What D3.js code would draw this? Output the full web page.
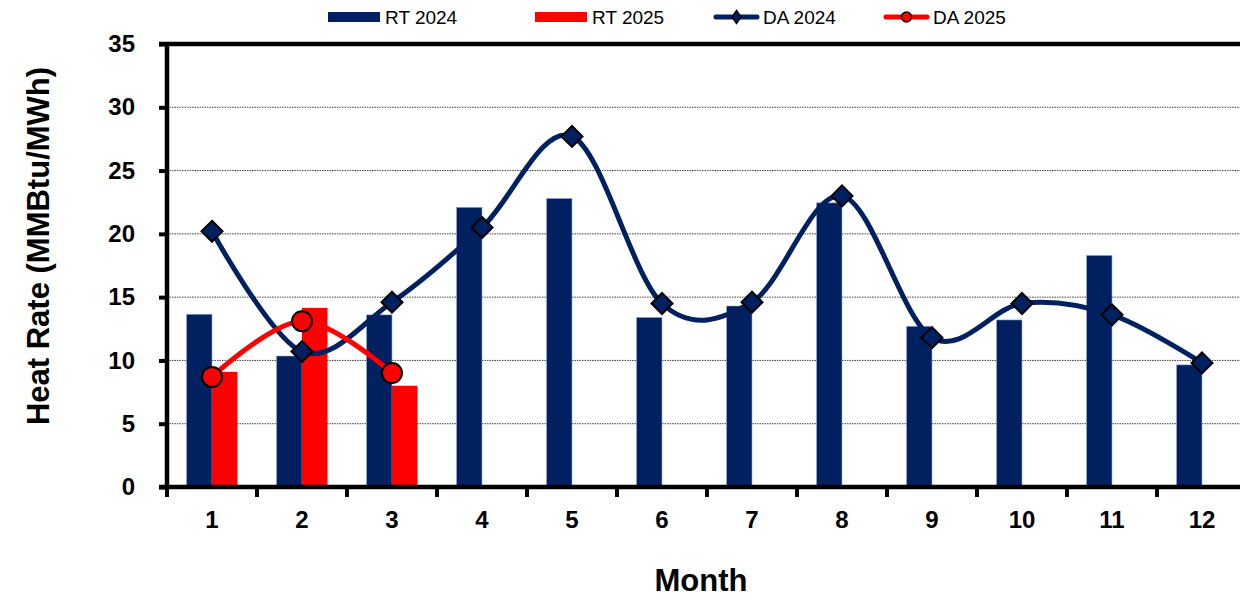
<!DOCTYPE html>
<html>
<head>
<meta charset="utf-8">
<script src="https://cdn.jsdelivr.net/npm/d3@7"></script>
<style>
  html, body { margin: 0; padding: 0; background: #fff; }
  svg { display: block; font-family: Arial, "Liberation Sans", sans-serif; }
</style>
</head>
<body>
<svg id="chart" width="1240" height="600"></svg>
<script>
// Monthly heat rates (MMBtu/MWh)
const months = ["1", "2", "3", "4", "5", "6", "7", "8", "9", "10", "11", "12"];
const rt2024 = [13.65, 10.35, 13.6, 22.1, 22.8, 13.4, 14.3, 22.45, 12.7, 13.2, 18.3, 9.65];
const rt2025 = [9.1, 14.15, 8.0];
const da2024 = [20.2, 10.7, 14.6, 20.5, 27.7, 14.5, 14.6, 23.0, 11.8, 14.5, 13.6, 9.8];
const da2025 = [8.7, 13.1, 9.0];
const yTicks = [0, 5, 10, 15, 20, 25, 30, 35];

const NAVY = "#002060";
const RED = "#ff0000";

const svg = d3.select("#chart");
const plot = { left: 167, right: 1247, top: 44, bottom: 487 };

const x = d3.scaleBand().domain(months).range([plot.left, plot.right]);
const y = d3.scaleLinear().domain([0, 35]).range([plot.bottom, plot.top]);
const barW = 25.5;
const cx = m => x(m) + x.bandwidth() / 2;

// Dotted horizontal gridlines
svg.append("g")
  .selectAll("line")
  .data(yTicks.filter(t => t > 0 && t < 35))
  .join("line")
  .attr("x1", plot.left).attr("x2", plot.right)
  .attr("y1", d => y(d)).attr("y2", d => y(d))
  .attr("stroke", "#444").attr("stroke-width", 1)
  .attr("stroke-dasharray", "1.5,1");

// Bars: RT 2024 left of the month centre, RT 2025 right of it
svg.append("g")
  .selectAll("rect")
  .data(rt2024)
  .join("rect")
  .attr("x", (d, i) => cx(months[i]) - barW)
  .attr("y", d => y(d))
  .attr("width", barW)
  .attr("height", d => y(0) - y(d))
  .attr("fill", NAVY)
  .attr("stroke", "#9fb0d0").attr("stroke-width", 0.6);

svg.append("g")
  .selectAll("rect")
  .data(rt2025)
  .join("rect")
  .attr("x", (d, i) => cx(months[i]))
  .attr("y", d => y(d))
  .attr("width", barW)
  .attr("height", d => y(0) - y(d))
  .attr("fill", RED);

// Smoothed day-ahead lines
const line = d3.line()
  .x((d, i) => cx(months[i]))
  .y(d => y(d))
  .curve(d3.curveCatmullRom.alpha(0));

svg.append("path").datum(da2024)
  .attr("d", line).attr("fill", "none")
  .attr("stroke", NAVY).attr("stroke-width", 5);

svg.append("path").datum(da2025)
  .attr("d", line).attr("fill", "none")
  .attr("stroke", RED).attr("stroke-width", 5);

// Markers
const diamond = (px, py, hw, hh) =>
  `M${px},${py - hh}L${px + hw},${py}L${px},${py + hh}L${px - hw},${py}Z`;

svg.append("g")
  .selectAll("path")
  .data(da2024)
  .join("path")
  .attr("d", (d, i) => diamond(cx(months[i]), y(d), 10.5, 10.5))
  .attr("fill", NAVY).attr("stroke", "#000").attr("stroke-width", 2);

svg.append("g")
  .selectAll("circle")
  .data(da2025)
  .join("circle")
  .attr("cx", (d, i) => cx(months[i]))
  .attr("cy", d => y(d))
  .attr("r", 10)
  .attr("fill", RED).attr("stroke", "#000").attr("stroke-width", 2);

// Frame: top border
svg.append("line")
  .attr("x1", plot.left - 8).attr("x2", plot.right)
  .attr("y1", plot.top).attr("y2", plot.top)
  .attr("stroke", "#000").attr("stroke-width", 4.5);

// Y axis
const yAxis = svg.append("g")
  .attr("transform", `translate(${plot.left},0)`)
  .call(d3.axisLeft(y).tickValues(yTicks).tickSize(8).tickPadding(24));
yAxis.select(".domain").attr("stroke-width", 4.5).attr("d", `M0,${plot.top - 2}V${plot.bottom + 2}`);
yAxis.selectAll(".tick line").attr("stroke-width", 4);
yAxis.selectAll(".tick text")
  .attr("font-size", 24).attr("font-weight", "bold").attr("fill", "#000")
  .attr("font-family", "Arial, 'Liberation Sans', sans-serif");

// X axis: ticks at month boundaries, labels at centres
const xAxisG = svg.append("g").attr("transform", `translate(0,${plot.bottom})`);
xAxisG.append("line")
  .attr("x1", plot.left - 8).attr("x2", plot.right)
  .attr("stroke", "#000").attr("stroke-width", 4.5);
xAxisG.selectAll("line.tk")
  .data(months)
  .join("line").attr("class", "tk")
  .attr("x1", d => x(d)).attr("x2", d => x(d))
  .attr("y1", 0).attr("y2", 10)
  .attr("stroke", "#000").attr("stroke-width", 4);
xAxisG.selectAll("text")
  .data(months)
  .join("text")
  .attr("x", d => cx(d))
  .attr("y", 41)
  .attr("text-anchor", "middle")
  .attr("font-size", 24).attr("font-weight", "bold")
  .text(d => d);

// Axis titles
svg.append("text")
  .attr("x", 701).attr("y", 591)
  .attr("text-anchor", "middle")
  .attr("font-size", 31).attr("font-weight", "bold")
  .text("Month");

svg.append("text")
  .attr("transform", "translate(49,246) rotate(-90)")
  .attr("text-anchor", "middle")
  .attr("font-size", 31).attr("font-weight", "bold")
  .text("Heat Rate (MMBtu/MWh)");

// Legend
const legend = svg.append("g").attr("font-size", 19);
const ly = 17;
const legendItems = [
  { name: "RT 2024", type: "bar", color: NAVY, x0: 328, tx: 385 },
  { name: "RT 2025", type: "bar", color: RED, x0: 535, tx: 592 },
  { name: "DA 2024", type: "diamond", color: NAVY, x0: 714, tx: 763 },
  { name: "DA 2025", type: "circle", color: RED, x0: 884, tx: 933 }
];
legendItems.forEach(it => {
  if (it.type === "bar") {
    legend.append("rect")
      .attr("x", it.x0).attr("y", ly - 5)
      .attr("width", 52).attr("height", 10)
      .attr("fill", it.color);
  } else {
    legend.append("line")
      .attr("x1", it.x0 + 2).attr("x2", it.x0 + 43)
      .attr("y1", ly).attr("y2", ly)
      .attr("stroke", it.color).attr("stroke-width", 5)
      .attr("stroke-linecap", "round");
    const mx = it.x0 + 22.5;
    if (it.type === "diamond") {
      legend.append("path")
        .attr("d", diamond(mx, ly, 4.5, 6.5))
        .attr("fill", it.color).attr("stroke", "#000").attr("stroke-width", 1.5);
    } else {
      legend.append("circle")
        .attr("cx", mx).attr("cy", ly).attr("r", 5)
        .attr("fill", it.color).attr("stroke", "#000").attr("stroke-width", 1.5);
    }
  }
  legend.append("text")
    .attr("x", it.tx).attr("y", ly + 7)
    .attr("fill", "#000")
    .text(it.name);
});
</script>
</body>
</html>
